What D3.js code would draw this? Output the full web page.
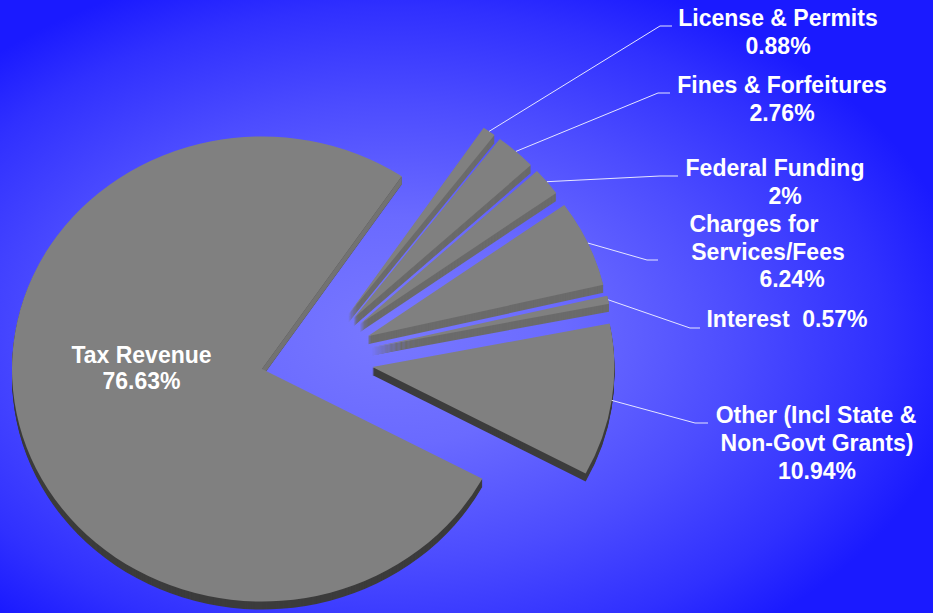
<!DOCTYPE html>
<html>
<head>
    <script src="https://cdnjs.cloudflare.com/ajax/libs/d3/7.8.5/d3.min.js"></script>
    <style>
        body { margin: 0; padding: 0; overflow: hidden; }
        svg { display: block; }
        .lbl { font-family: "Liberation Sans", Arial, sans-serif; font-weight: bold; font-size: 23px; fill: #fff; white-space: pre; }
    </style>
</head>
<body>
    <svg width="933" height="613"></svg>
    <script>
        // data (percent of revenue), clockwise from the top
        var categories = ["License & Permits", "Fines & Forfeitures", "Federal Funding",
            "Charges for Services/Fees", "Interest", "Other (Incl State & Non-Govt Grants)", "Tax Revenue"];
        var shares = [0.88, 2.76, 2, 6.24, 0.57, 10.94, 76.63];
        var nameLines = [["License & Permits"], ["Fines & Forfeitures"], ["Federal Funding"],
            ["Charges for", "Services/Fees"], ["Interest"], ["Other (Incl State &", "Non-Govt Grants)"], ["Tax Revenue"]];

        // layout only
        var labelLayout = [
            { lines: [[778, 26], [778, 54]], elbow: [660, 26], end: [672, 26] },
            { lines: [[782, 93], [782, 121]], elbow: [658, 93], end: [670, 93] },
            { lines: [[775, 176], [785, 204]], elbow: [660, 176], end: [678, 176] },
            { lines: [[754, 232], [768, 260], [792, 287]], elbow: [647, 260], end: [658, 260] },
            { lines: [[787, 327]], inline: true, elbow: [690, 328], end: [700, 328] },
            { lines: [[816, 423], [817, 451], [817, 479]], elbow: [695, 423], end: [708, 423] },
            { lines: [[141.5, 363], [141.5, 389]] }
        ];
        var sideColors = ["#6b6b6b", "#6b6b6b", "#6b6b6b", "#6b6b6b", "#6b6b6b", "#3d3d3d", "#3c3c3c"];

        var svg = d3.select("svg"),
            width = +svg.attr("width"),
            height = +svg.attr("height");

        var defs = svg.append("defs");
        var grad = defs.append("radialGradient").attr("id", "bg")
            .attr("cx", 0.42).attr("cy", 0.54).attr("r", 0.62);
        [[0, "#7878ff"], [0.3, "#6a6aff"], [0.6, "#4c4cff"], [0.85, "#3030ff"], [1, "#1a1aff"]].forEach(function(s) {
            grad.append("stop").attr("offset", s[0]).attr("stop-color", s[1]);
        });
        svg.append("rect").attr("width", width).attr("height", height).attr("fill", "url(#bg)");

        var tilt = 0.93,            // vertical squash of the pie
            depth = 8,
            taxCenter = [262, 369], taxR = 250,
            smallBase = [314, 359], smallR = 242, explode = 59;

        var start = 34 * Math.PI / 180;
        var pie = d3.pie().sort(null).value(function(d) { return d; })
            .startAngle(start).endAngle(start + 2 * Math.PI);
        var arcs = pie(shares);
        var TAX = 6;

        arcs.forEach(function(a, i) {
            var m = (a.startAngle + a.endAngle) / 2;
            if (i === TAX) {
                a.c = taxCenter; a.r = taxR;
            } else {
                a.c = [smallBase[0] + explode * Math.sin(m), smallBase[1] - explode * Math.cos(m) * tilt];
                a.r = smallR;
            }
            a.mid = m;
        });

        function pt(a, ang, r) {
            return [a.c[0] + r * Math.sin(ang), a.c[1] - r * Math.cos(ang) * tilt];
        }

        var arcGen = d3.arc().innerRadius(0);
        var chart = svg.append("g");

        function drawSlice(a, i) {
            var g = chart.append("g");
            var path = arcGen.outerRadius(a.r)(a);
            for (var k = depth; k >= 1; k--) {
                g.append("path")
                    .attr("transform", "translate(" + a.c[0] + "," + (a.c[1] + k) + ") scale(1," + tilt + ")")
                    .attr("d", path)
                    .attr("fill", sideColors[i]);
            }
            if (i === TAX) {
                // lit radial face along the notch
                var p1 = pt(a, a.endAngle, a.r);
                g.append("path")
                    .attr("d", d3.line()([a.c, p1, [p1[0], p1[1] + depth], [a.c[0], a.c[1] + depth]]))
                    .attr("fill", "#727272");
            }
            g.append("path")
                .attr("transform", "translate(" + a.c[0] + "," + a.c[1] + ") scale(1," + tilt + ")")
                .attr("d", path)
                .attr("fill", "#808080");
        }

        drawSlice(arcs[TAX], TAX);
        for (var i = 0; i < TAX; i++) drawSlice(arcs[i], i);

        // leader lines
        arcs.forEach(function(a, i) {
            var L = labelLayout[i];
            if (!L.elbow) return;
            svg.append("path")
                .attr("d", d3.line()([pt(a, a.mid, a.r), L.elbow, L.end]))
                .attr("fill", "none")
                .attr("stroke", "#e6e6ff")
                .attr("stroke-width", 1);
        });

        // labels
        arcs.forEach(function(a, i) {
            var L = labelLayout[i];
            var pct = shares[i] + "%";
            var lines = L.inline ? [nameLines[i][0] + "  " + pct] : nameLines[i].concat([pct]);
            lines.forEach(function(t, j) {
                svg.append("text")
                    .attr("class", "lbl")
                    .attr("x", L.lines[j][0])
                    .attr("y", L.lines[j][1])
                    .attr("text-anchor", "middle")
                    .text(t);
            });
        });
    </script>
</body>
</html>
